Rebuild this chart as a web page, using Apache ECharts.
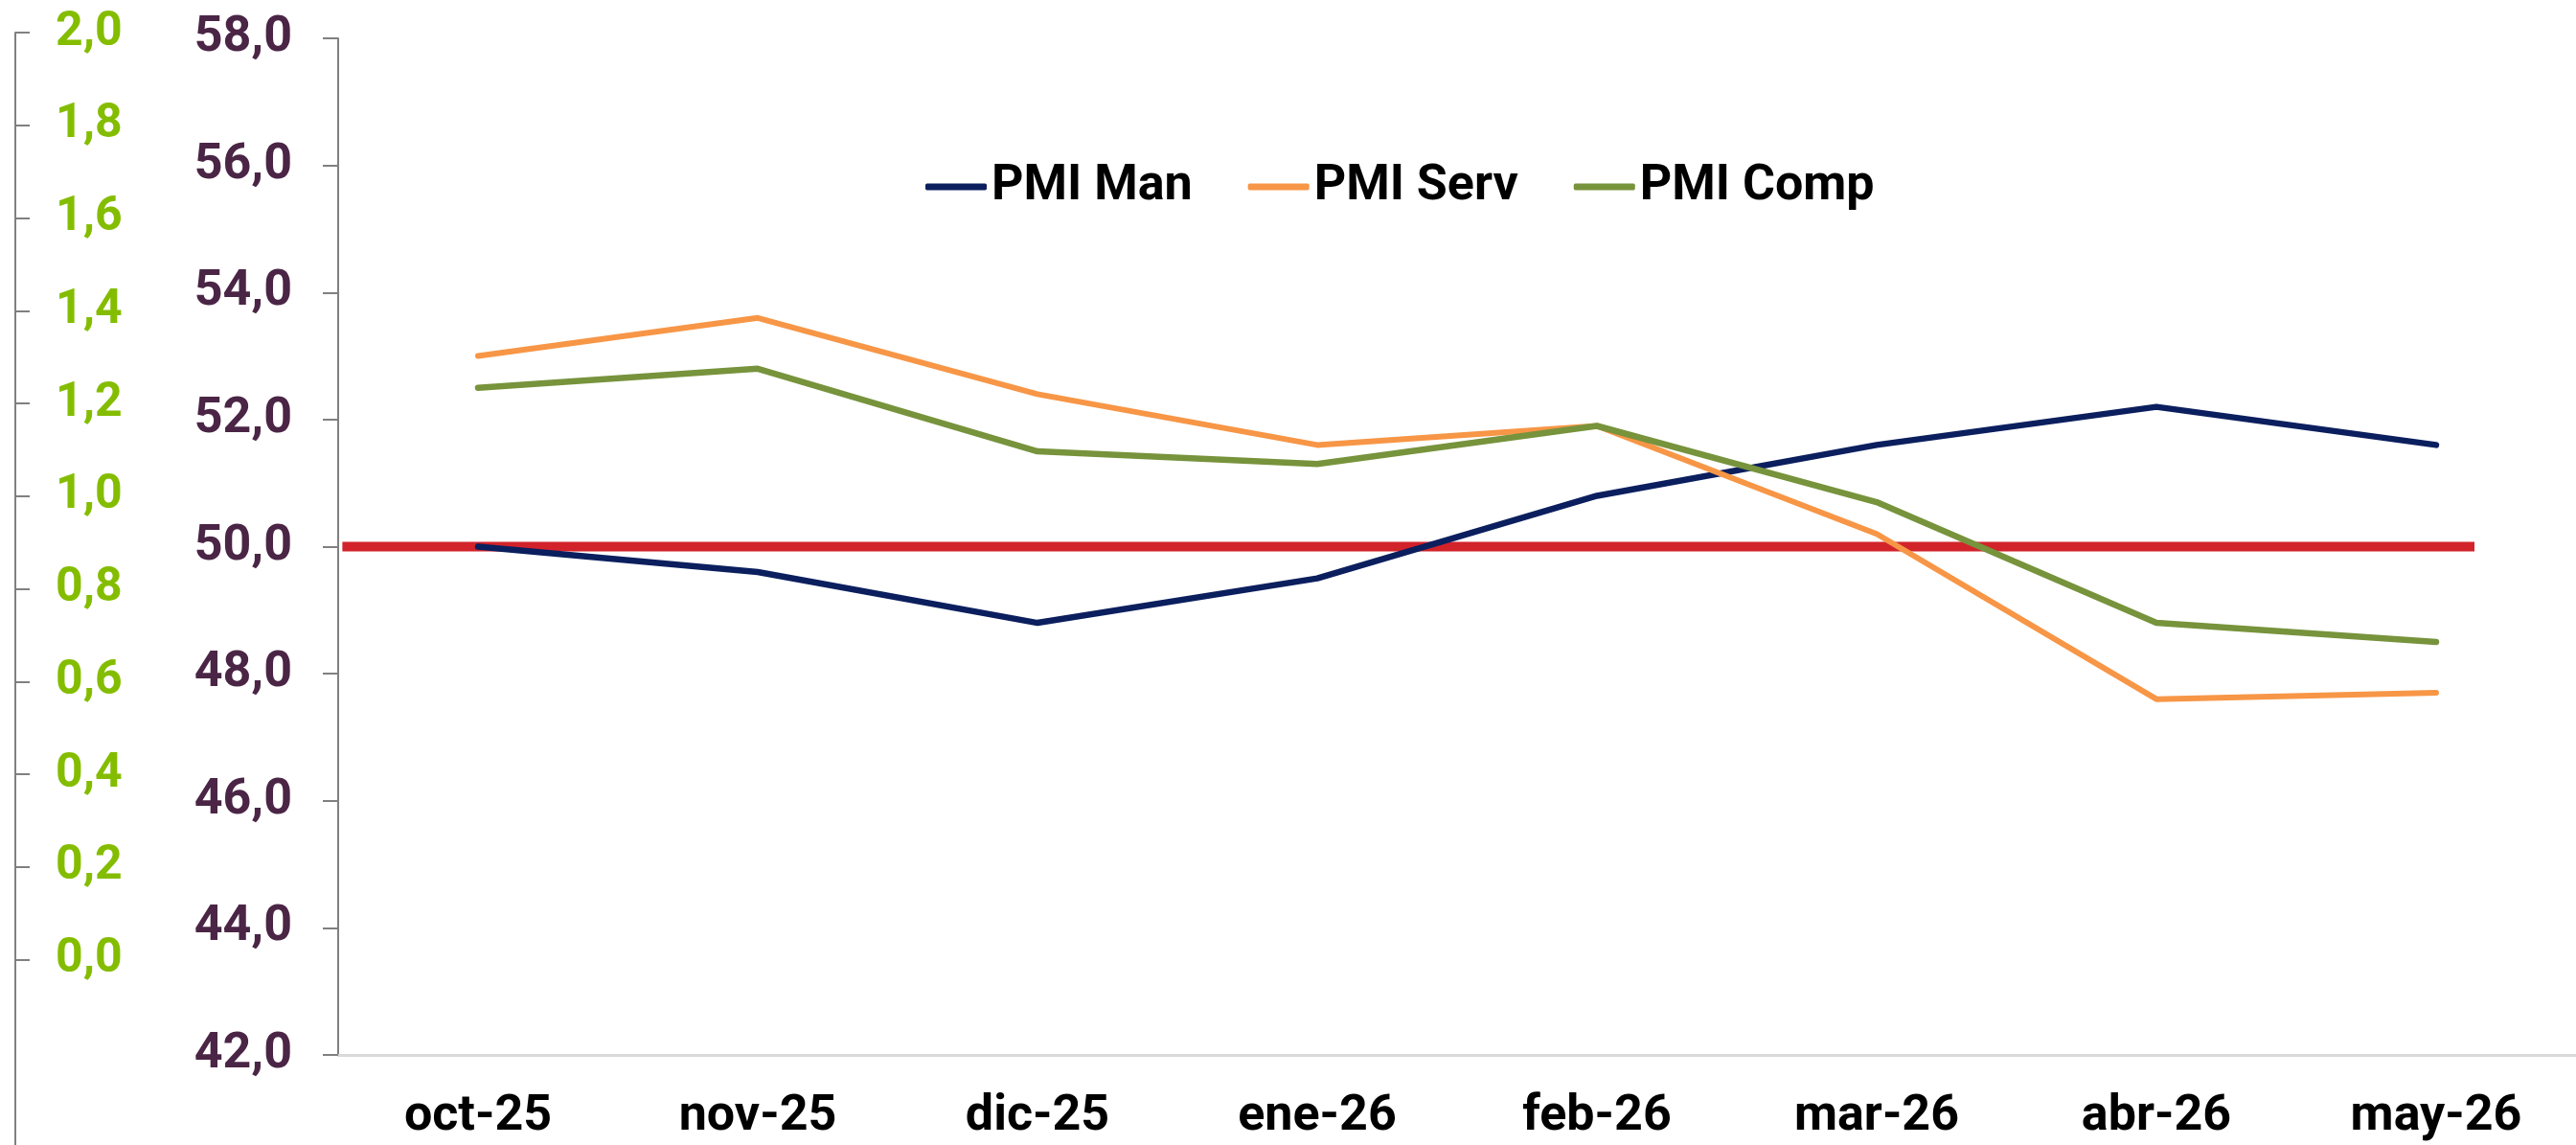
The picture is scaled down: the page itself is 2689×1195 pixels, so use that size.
<!DOCTYPE html>
<html>
<head>
<meta charset="utf-8">
<script src="https://cdn.jsdelivr.net/npm/echarts@6/dist/echarts.min.js"></script>
<style>
  html, body { margin: 0; padding: 0; background: #fff; }
  #chart { width: 2689px; height: 1195px; }
</style>
</head>
<body>
<div id="chart"></div>
<script>
const months = ['oct-25', 'nov-25', 'dic-25', 'ene-26', 'feb-26', 'mar-26', 'abr-26', 'may-26']
const pmiMan = [50.0, 49.6, 48.8, 49.5, 50.8, 51.6, 52.2, 51.6]
const pmiServ = [53.0, 53.6, 52.4, 51.6, 51.9, 50.2, 47.6, 47.7]
const pmiComp = [52.5, 52.8, 51.5, 51.3, 51.9, 50.7, 48.8, 48.5]
// red 50 reference level
const refLevel = [50]
// left (green) axis ticks, cut-off leftover of the neighbouring chart
const greenTicks = [0, 0.2, 0.4, 0.6, 0.8, 1.0, 1.2, 1.4, 1.6, 1.8, 2.0]

const colors = {
  navy: '#0b1f5e',
  orange: '#f79646',
  green: '#77933c',
  red: '#d2232a',
  purple: '#4a2545',
  lime: '#84bd00',
  axis: '#808080',
  xAxis: '#d9d9d9'
}

const font = 'Roboto'
const comma = (v) => v.toFixed(1).replace('.', ',')

// reference line: from the start of the first band to a bit past the last point
const renderRefLine = (params, api) => {
  const level = api.value(1)
  const first = api.coord([0, level])
  const last = api.coord([months.length - 1, level])
  const band = api.size([1, 0])[0]
  return {
    type: 'line',
    shape: { x1: first[0] - band * 0.485, y1: first[1], x2: last[0] + band * 0.137, y2: last[1] },
    style: { stroke: colors.red, lineWidth: 10 }
  }
}

const chart = echarts.init(document.getElementById('chart'))

chart.setOption({
  animation: false,
  grid: [
    { left: 353, right: -7, top: 40, bottom: 94 },
    { left: 16, right: 2473, top: 34, bottom: -13 }
  ],
  legend: {
    data: ['PMI Man', 'PMI Serv', 'PMI Comp'],
    left: 966,
    top: 169,
    padding: 0,
    itemGap: 58,
    itemWidth: 64,
    itemHeight: 7,
    icon: 'roundRect',
    textStyle: { fontFamily: font, fontWeight: 'bold', fontSize: 52, color: '#000' }
  },
  xAxis: [
    {
      type: 'category',
      gridIndex: 0,
      data: months,
      boundaryGap: true,
      axisLine: { lineStyle: { color: colors.xAxis, width: 3 } },
      axisTick: { show: false },
      axisLabel: { margin: 39, fontFamily: font, fontWeight: 'bold', fontSize: 52, color: '#000' },
      splitLine: { show: false }
    },
    {
      type: 'value',
      gridIndex: 1,
      min: 0,
      max: 1,
      axisLine: { show: false },
      axisTick: { show: false },
      axisLabel: { show: false },
      splitLine: { show: false }
    }
  ],
  yAxis: [
    {
      type: 'value',
      gridIndex: 0,
      min: 42,
      max: 58,
      interval: 2,
      axisLine: { show: true, lineStyle: { color: colors.axis, width: 2 } },
      axisTick: { show: true, length: 16, lineStyle: { color: colors.axis, width: 2 } },
      axisLabel: {
        margin: 48,
        fontFamily: font,
        fontWeight: 'bold',
        fontSize: 52,
        color: colors.purple,
        formatter: comma
      },
      splitLine: { show: false }
    },
    {
      type: 'value',
      gridIndex: 1,
      min: -0.4,
      max: 2.0,
      interval: 0.2,
      axisLine: { show: true, lineStyle: { color: colors.axis, width: 2 } },
      axisTick: {
        show: true,
        inside: true,
        length: 15,
        customValues: greenTicks,
        lineStyle: { color: colors.axis, width: 2 }
      },
      axisLabel: {
        inside: true,
        margin: 42,
        fontFamily: font,
        fontWeight: 'bold',
        fontSize: 50,
        color: colors.lime,
        customValues: greenTicks,
        formatter: (v) => (v < 0 ? '' : comma(v))
      },
      splitLine: { show: false }
    }
  ],
  series: [
    {
      name: 'ref50',
      type: 'custom',
      xAxisIndex: 0,
      yAxisIndex: 0,
      data: refLevel.map((v) => [0, v]),
      renderItem: renderRefLine,
      z: 1,
      silent: true
    },
    {
      name: 'PMI Man',
      type: 'line',
      data: pmiMan,
      symbol: 'none',
      color: colors.navy,
      z: 3,
      lineStyle: { color: colors.navy, width: 6.5, cap: 'round', join: 'round' }
    },
    {
      name: 'PMI Serv',
      type: 'line',
      data: pmiServ,
      symbol: 'none',
      color: colors.orange,
      z: 3,
      lineStyle: { color: colors.orange, width: 6, cap: 'round', join: 'round' }
    },
    {
      name: 'PMI Comp',
      type: 'line',
      data: pmiComp,
      symbol: 'none',
      color: colors.green,
      z: 3,
      lineStyle: { color: colors.green, width: 6.5, cap: 'round', join: 'round' }
    }
  ]
})
</script>
</body>
</html>
